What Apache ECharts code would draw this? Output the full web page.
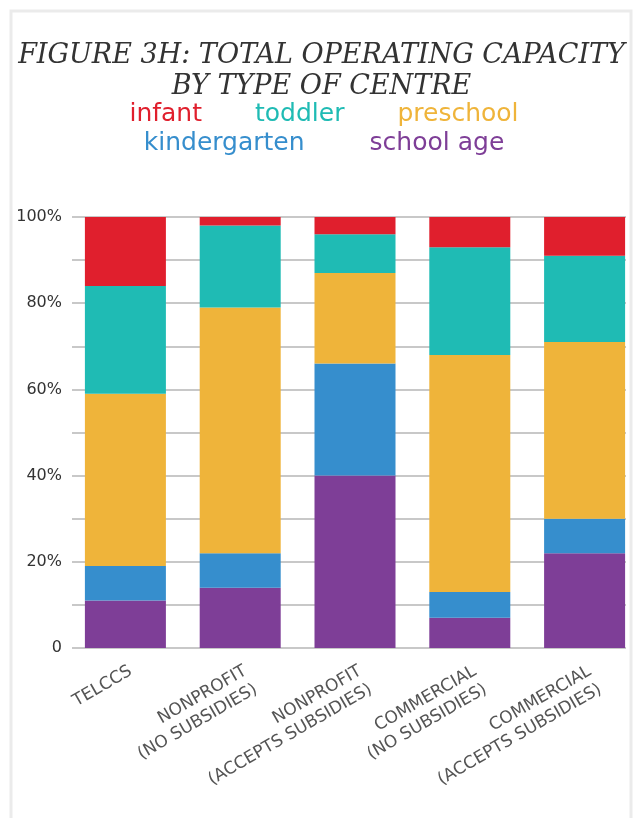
<!DOCTYPE html>
<html>
<head>
<meta charset="utf-8">
<script src="https://cdn.jsdelivr.net/npm/echarts@6/dist/echarts.min.js"></script>
<style>html,body{margin:0;padding:0;background:#fff;overflow:hidden}#c{width:643px;height:818px}</style>
</head>
<body>
<div id="c"></div>
<script>
const categories = ['TELCCS', 'NONPROFIT\n(NO SUBSIDIES)', 'NONPROFIT\n(ACCEPTS SUBSIDIES)', 'COMMERCIAL\n(NO SUBSIDIES)', 'COMMERCIAL\n(ACCEPTS SUBSIDIES)'];
const seriesNames = ['infant', 'toddler', 'preschool', 'kindergarten', 'school age'];
const schoolAge    = [11, 14, 40, 7, 22];
const kindergarten = [8, 8, 26, 6, 8];
const preschool    = [40, 57, 21, 55, 41];
const toddler      = [25, 19, 9, 25, 20];
const infant       = [16, 2, 4, 7, 9];
const yTicks = [0, 10, 20, 30, 40, 50, 60, 70, 80, 90, 100];
const yTickLabels = ['0', '', '20%', '', '40%', '', '60%', '', '80%', '', '100%'];
const colors = {infant:'#E01F2D', toddler:'#1FBBB4', preschool:'#EFB43A', kindergarten:'#368ECD', 'school age':'#7E3E97'};

const chart = echarts.init(document.getElementById('c'), null, {renderer:'canvas'});
const legendFont = {fontFamily:'DejaVu Sans', fontSize:25};
function legendItems(names){ return names.map(n => ({name:n, textStyle:Object.assign({color:colors[n]}, legendFont)})); }

const stackOrder = [['school age', schoolAge], ['kindergarten', kindergarten], ['preschool', preschool], ['toddler', toddler], ['infant', infant]];

chart.setOption({
  backgroundColor:'#ffffff',
  animation:false,
  title:{
    text:'FIGURE 3H: TOTAL OPERATING CAPACITY\nBY TYPE OF CENTRE',
    left:'center', top:35,
    textStyle:{fontFamily:'DejaVu Serif', fontStyle:'italic', fontWeight:'normal', fontSize:27, lineHeight:31, color:'#333'}
  },
  legend:[
    {data:legendItems(['infant','toddler','preschool']), top:97, left:'center', padding:[5,17,5,5], itemWidth:0, itemHeight:0, itemGap:48, selectedMode:false},
    {data:legendItems(['kindergarten','school age']), top:126, left:'center', padding:[5,7,5,5], itemWidth:0, itemHeight:0, itemGap:60, selectedMode:false}
  ],
  grid:{left:68, top:217, right:1, bottom:170, containLabel:false},
  xAxis:{
    type:'category', data:categories,
    axisLine:{show:false}, axisTick:{show:false},
    axisLabel:{rotate:30, interval:0, margin:13, align:'right', verticalAlign:'top',
      fontFamily:'DejaVu Sans', fontSize:17, color:'#555', lineHeight:21}
  },
  yAxis:{
    type:'value', min:0, max:100, interval:10,
    axisLine:{show:false}, axisTick:{show:false},
    axisLabel:{margin:6, fontFamily:'DejaVu Sans', fontSize:16, color:'#333',
      formatter:function(v){ const i = yTicks.indexOf(v); return i >= 0 ? yTickLabels[i] : ''; }},
    splitLine:{lineStyle:{color:'#c8c8c8', width:2}}
  },
  series: stackOrder.map(([name, vals]) => ({
    name:name, type:'bar', stack:'total', barWidth:81, data:vals,
    itemStyle:{color:colors[name]}
  })),
  graphic:[
    {type:'rect', shape:{x:626, y:200, width:20, height:460}, style:{fill:'#fff'}, z:100},
    {type:'rect', shape:{x:64, y:200, width:8, height:460}, style:{fill:'#fff'}, z:100},
    {type:'rect', shape:{x:11, y:11, width:620, height:830}, style:{fill:'none', stroke:'#ebebeb', lineWidth:3}, z:101}
  ]
});
</script>
</body>
</html>
